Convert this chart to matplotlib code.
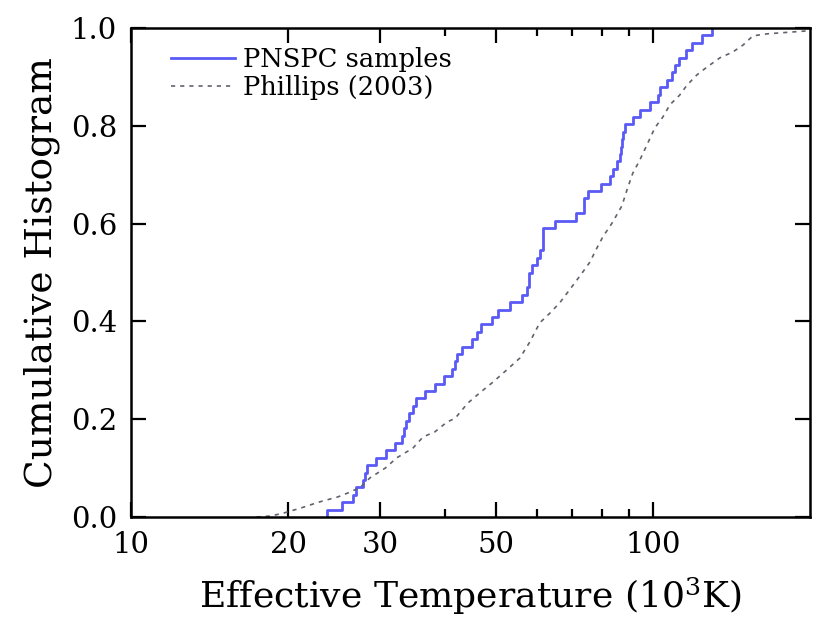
import numpy as np
import matplotlib
matplotlib.use("Agg")
import matplotlib.pyplot as plt
from matplotlib.ticker import FixedLocator, NullFormatter, FixedFormatter

# PNSPC sample effective temperatures (10^3 K), read from the ECDF risers
pnspc_temps = [23.7, 25.4, 26.6, 27.0, 27.8, 28.1, 28.3, 29.5, 30.8, 32.0,
               33.0, 33.3, 33.7, 34.1, 34.7, 35.1, 36.6, 38.2, 39.8, 41.2,
               41.8, 42.1, 43.1, 45.0, 46.0, 46.8, 49.2, 50.5, 53.2, 56.1,
               57.4, 57.9, 57.9, 58.6, 60.0, 60.7, 61.6, 61.6, 61.6, 64.9,
               71.2, 73.8, 73.8, 75.1, 79.4, 82.7, 83.8, 85.2, 86.5, 87.0,
               87.4, 87.7, 88.4, 91.5, 94.4, 98.7, 102.4, 103.1, 106.5, 108.6,
               110.2, 112.3, 115.7, 118.6, 124.0, 129.6]

# Phillips (2003) cumulative distribution
phillips_T = [17.4, 18.5, 19.6, 21.1, 23.0, 24.9, 26.3, 27.5, 28.7, 30.7,
              32.3, 34.7, 36.3, 38.2, 40.3, 41.8, 44.2, 46.6, 49.4, 52.5,
              55.6, 58.1, 60.7, 63.5, 66.3, 70.3, 73.4, 75.7, 78.1, 80.2,
              83.5, 87.2, 89.2, 91.5, 94.4, 97.8, 100.9, 104.5, 107.8, 112.6,
              116.2, 121.4, 126.9, 134.4, 142.3, 148.8, 155.5, 165.4, 175.1, 197.2]
phillips_F = [0.000, 0.002, 0.008, 0.018, 0.031, 0.041, 0.051, 0.061, 0.080, 0.100,
              0.121, 0.141, 0.164, 0.174, 0.194, 0.202, 0.233, 0.254, 0.276, 0.301,
              0.325, 0.358, 0.397, 0.417, 0.438, 0.474, 0.501, 0.521, 0.550, 0.573,
              0.601, 0.636, 0.669, 0.703, 0.730, 0.765, 0.796, 0.818, 0.843, 0.863,
              0.883, 0.904, 0.920, 0.939, 0.951, 0.965, 0.984, 0.988, 0.990, 0.994]

x_major = [10, 20, 30, 50, 100]
x_major_labels = ["10", "20", "30", "50", "100"]
x_minor = [40, 60, 70, 80, 90]
y_ticks = [0.0, 0.2, 0.4, 0.6, 0.8, 1.0]

plt.rcParams['font.family'] = ['DejaVu Serif']
plt.rcParams['mathtext.fontset'] = 'dejavuserif'

fig = plt.figure(figsize=(8.3, 6.2), dpi=100)
ax = fig.add_axes([131/830, 1-517/620, (810-131)/830, (517-28)/620])

t = np.sort(np.array(pnspc_temps))
n = len(t)
F = np.arange(1, n + 1) / n
xs = np.concatenate([[t[0]], t])
ys = np.concatenate([[0.0], F])
ax.step(xs, ys, where='post', color='#5a5af6', lw=2.0, label='PNSPC samples')

ax.plot(phillips_T, phillips_F, color='#62626e', lw=1.2,
        linestyle=(0, (2.5, 3.0)), label='Phillips (2003)')

ax.set_xscale('log')
ax.set_xlim(10, 200)
ax.set_ylim(0, 1)

ax.xaxis.set_major_locator(FixedLocator(x_major))
ax.xaxis.set_major_formatter(FixedFormatter(x_major_labels))
ax.xaxis.set_minor_locator(FixedLocator(x_minor))
ax.xaxis.set_minor_formatter(NullFormatter())
ax.set_yticks(y_ticks)
ax.set_yticklabels([f"{v:.1f}" for v in y_ticks])

ax.tick_params(which='both', direction='in', top=True, right=True, labelsize=21,
               width=1.6, colors='black')
ax.tick_params(which='major', length=11, pad=10)
ax.tick_params(which='minor', length=6)
for s in ax.spines.values():
    s.set_linewidth(1.8)

ax.set_xlabel(r'Effective Temperature (10$^3$K)', fontsize=26, labelpad=12)
ax.set_ylabel('Cumulative Histogram', fontsize=27, labelpad=8)

ax.legend(loc='upper left', frameon=False, fontsize=18.5, handlelength=2.5,
          handletextpad=0.3, labelspacing=0.12, borderaxespad=0.35,
          bbox_to_anchor=(0.03, 1.0))

fig.savefig('out.png', dpi=100)
